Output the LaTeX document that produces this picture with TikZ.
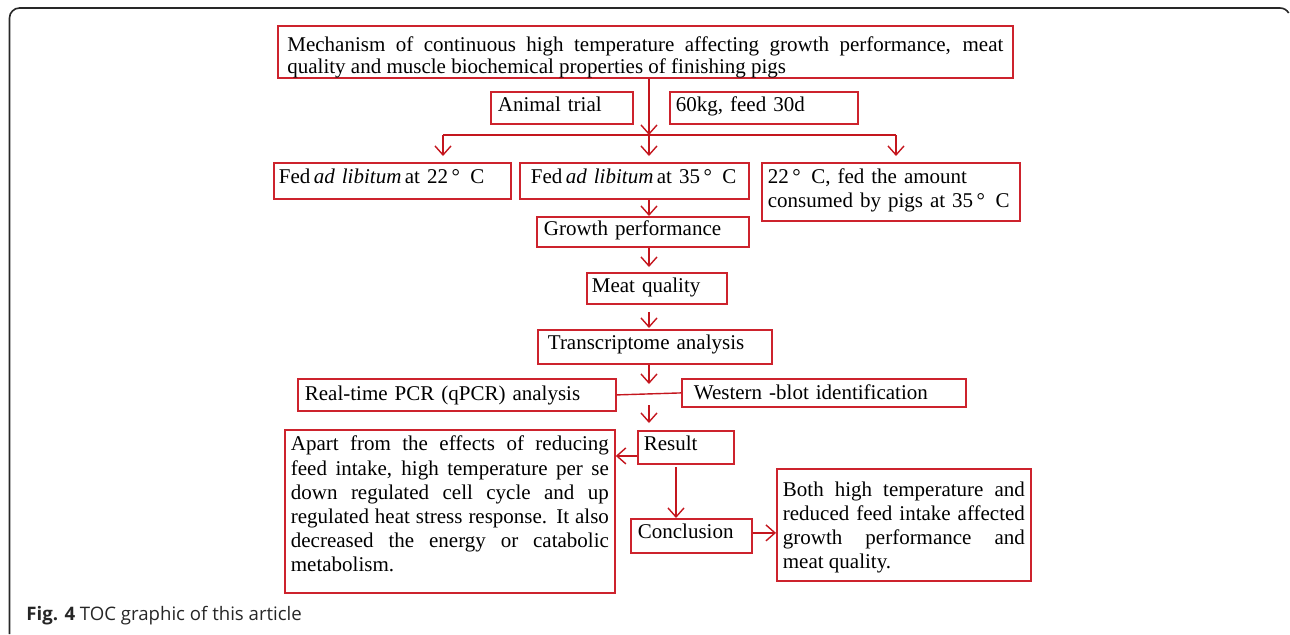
\documentclass[tikz,border=0pt]{standalone}
\usepackage{fontspec}
\setmainfont{Liberation Serif}
\newfontfamily\capfont{Open Sans}
\usetikzlibrary{arrows.meta}
\definecolor{boxred}{RGB}{205,35,45}
\definecolor{arrred}{RGB}{196,22,30}
\definecolor{framec}{RGB}{40,40,40}
\tikzset{
  box/.style={draw=boxred, line width=0.9pt, anchor=north west, inner ysep=0pt, align=left, font=\fontsize{10.5}{12}\selectfont, text=black},
  jbox/.style={box, align=justify},
  arr/.style={draw=arrred, line width=0.7pt, -{Straight Barb[length=4.5pt,width=8pt]}},
  link/.style={draw=arrred, line width=0.7pt},
}
\begin{document}
\begin{tikzpicture}[x=0.5pt,y=-0.5pt]
\useasboundingbox (0,0) rectangle (1290,634);
\draw[framec, line width=0.8pt] (9.5,634) -- (9.5,18) arc[start angle=180,end angle=90,radius=5pt] -- (1280,8) arc[start angle=90,end angle=30,radius=5pt];

\node[jbox, inner xsep=4.75pt, text width=358pt, text height=13pt, text depth=13pt, font=\fontsize{10.5}{11}\selectfont] (top) at (277,25) {Mechanism of continuous high temperature affecting growth performance, meat\linebreak quality and muscle biochemical properties of finishing pigs};
\node[box, inner xsep=3.5pt, text width=64pt, text height=10pt, text depth=6pt] (animal) at (490,91) {Animal trial};
\node[box, inner xsep=3pt, text width=88pt, text height=10pt, text depth=6pt] (kg) at (669,91) {60kg, feed 30d};
\node[box, inner xsep=2.5pt, text width=113.5pt, text height=10.5pt, text depth=7.5pt] (f22) at (273,162) {Fed\,\textit{ad libitum}\,at 22\,°\enspace C};
\node[box, inner xsep=5.5pt, text width=103.5pt, text height=10.5pt, text depth=7.5pt] (f35) at (519,162) {Fed\,\textit{ad libitum}\,at 35\,°\enspace C};
\node[box, inner xsep=3pt, text width=123pt, text height=10.5pt, text depth=18.5pt] (f22b) at (761,162) {22\,°\enspace C, fed the amount\\consumed by pigs at 35\,°\enspace C};
\node[box, inner xsep=3.5pt, text width=99pt, text height=9.5pt, text depth=5.5pt] (growth) at (536,216) {Growth performance};
\node[box, inner xsep=2.5pt, text width=65pt, text height=10pt, text depth=5.5pt] (meat) at (586,272) {Meat quality};
\node[box, inner xsep=5pt, text width=107pt, text height=10pt, text depth=7pt] (trans) at (537,329) {Transcriptome analysis};
\node[box, inner xsep=3.5pt, text width=152pt, text height=11pt, text depth=5pt] (pcr) at (297,378) {Real-time PCR (qPCR) analysis};
\node[box, inner xsep=6pt, text width=130pt, text height=10.5pt, text depth=3.5pt] (west) at (681,378) {Western -blot identification};
\node[box, inner xsep=3pt, text width=42pt, text height=10pt, text depth=6.5pt] (result) at (637,430) {Result};
\node[jbox, inner xsep=3pt, text width=159pt, text height=10.5pt, text depth=71pt, font=\fontsize{10.5}{12.1}\selectfont] (apart) at (284,429) {Apart from the effects of reducing\linebreak feed intake, high temperature per se\linebreak down regulated cell cycle and up\linebreak regulated heat stress response. It also\linebreak decreased the energy or catabolic\linebreak metabolism.};
\node[box, inner xsep=3.5pt, text width=53.5pt, text height=10pt, text depth=7pt] (concl) at (630,518) {Conclusion};
\node[jbox, inner xsep=3pt, text width=121pt, text height=14pt, text depth=42pt] (both) at (776,468) {Both high temperature and\linebreak reduced feed intake affected\linebreak growth performance and\linebreak meat quality.};

\node[anchor=base west, inner sep=0pt, font=\capfont\fontsize{9.3}{11}\selectfont, text=black!85] (cap) at (26,620) {\textbf{Fig. 4} TOC graphic of this article};

\coordinate (cx) at (649,0);
\coordinate (hm) at (649,135);
\coordinate (hl) at (443,135);
\coordinate (hr) at (896,135);
\draw[arr] (top.south -| cx) -- (hm);
\draw[link] (hl) -- (hr);
\draw[arr, shorten >=3pt] (hl) -- (hl |- f22.north);
\draw[arr, shorten >=3pt] (hm) -- (hm |- f35.north);
\draw[arr, shorten >=3pt] (hr) -- (hr |- f22b.north);
\draw[arr] (f35.south -| cx) -- (growth.north -| cx);
\draw[arr, shorten >=2.5pt] (growth.south -| cx) -- (meat.north -| cx);
\draw[arr, shorten <=3.5pt, shorten >=0.5pt] (meat.south -| cx) -- (trans.north -| cx);
\coordinate (j1) at (649,384);
\draw[arr] (trans.south -| cx) -- (j1);
\draw[link] (pcr.east) -- (west.west);
\coordinate (j2) at (649,405);
\draw[arr, shorten >=3.5pt] (j2) -- (j2 |- result.north);
\draw[arr] ([yshift=-4.25pt]result.west) -- ([yshift=-4.25pt]result.west -| apart.east);
\coordinate (j3) at (676,467);
\draw[arr] (j3) -- (j3 |- concl.north);
\draw[arr] ([yshift=1.5pt]concl.east) -- ([yshift=1.5pt]concl.east -| both.west);
\end{tikzpicture}
\end{document}
